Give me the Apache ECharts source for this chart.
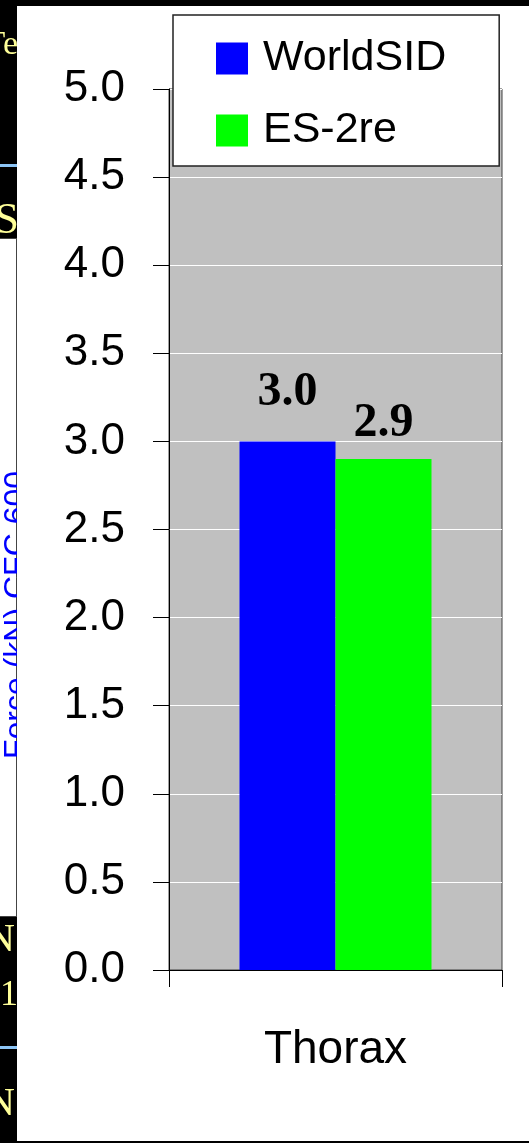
<!DOCTYPE html>
<html>
<head>
<meta charset="utf-8">
<script src="https://cdn.jsdelivr.net/npm/echarts@6/dist/echarts.min.js"></script>
<style>
	html, body { margin: 0; padding: 0; background: #000; }
	#strip { position: absolute; left: 0; top: 0; width: 17px; height: 1143px; }
	#main { position: absolute; left: 17px; top: 6px; width: 512px; height: 1135px; background: #fff; }
</style>
</head>
<body>
<div id="strip"></div>
<div id="main"></div>
<script>
/**
 * Thorax force, WorldSID vs ES-2re
 */
var categories = ['Thorax'];
var worldSid = [3.0];
var es2re = [2.9];
var yMin = 0;
var yMax = 5;
var yStep = 0.5;

// slide fragments showing at the left edge
var stripTexts = ['Te', 'S', 'N', '31', 'N'];
var axisTitle = 'Force (kN) CFC 600';

function leftStrip(id) {
	var myChart = echarts.init(document.getElementById(id));
	function yellow(t, x, y, size) {
		return { type: 'text', x: x, y: y, style: { text: t, align: 'right', verticalAlign: 'middle',
			fill: '#FFFF99', fontFamily: 'Liberation Serif', fontSize: size } };
	}
	myChart.setOption({
		backgroundColor: '#000',
		graphic: [
			yellow(stripTexts[0], 18, 45, 34),
			{ type: 'rect', shape: { x: 0, y: 164, width: 17, height: 3 }, style: { fill: '#8CC4F5' } },
			yellow(stripTexts[1], 19, 221, 44),
			{ type: 'rect', shape: { x: -2, y: 238.5, width: 18.5, height: 678 }, style: { fill: '#fff', stroke: '#444', lineWidth: 1 } },
			{ type: 'text', x: 1, y: 615, rotation: Math.PI / 2,
				style: { text: axisTitle, align: 'center', verticalAlign: 'top', fill: '#0000FF', fontFamily: 'Liberation Sans', fontSize: 32 } },
			yellow(stripTexts[2], 15, 940, 40),
			yellow(stripTexts[3], 18, 996, 36),
			{ type: 'rect', shape: { x: 0, y: 1046, width: 17, height: 3 }, style: { fill: '#8CC4F5' } },
			yellow(stripTexts[4], 15, 1104, 40)
		]
	});
}

function thoraxBars(id) {
	var myChart = echarts.init(document.getElementById(id));
	var labelFont = {
		show: true,
		position: 'top',
		color: '#000',
		fontFamily: 'Liberation Serif',
		fontWeight: 'bold',
		fontSize: 48,
		formatter: function (p) { return p.value.toFixed(1); }
	};
	var option = {
		animation: false,
		backgroundColor: '#fff',
		textStyle: { fontFamily: 'Liberation Sans' },
		grid: {
			left: 152,
			right: 27,
			top: 83,
			bottom: 171,
			show: true,
			backgroundColor: '#C0C0C0',
			borderColor: '#404040',
			borderWidth: 1
		},
		legend: {
			orient: 'vertical',
			left: 156,
			top: 9,
			data: ['WorldSID', 'ES-2re'],
			icon: 'rect',
			itemWidth: 32,
			itemHeight: 32,
			itemGap: 29,
			padding: [22, 53, 14, 43],
			backgroundColor: '#fff',
			borderColor: '#222',
			borderWidth: 1.5,
			textStyle: {
				color: '#000',
				fontSize: 43,
				fontFamily: 'Liberation Sans',
				padding: [0, 0, 0, 10]
			}
		},
		xAxis: {
			type: 'category',
			data: categories,
			boundaryGap: true,
			axisLine: { lineStyle: { color: '#000', width: 1 } },
			axisTick: { show: true, length: 17, lineStyle: { color: '#000' } },
			axisLabel: { color: '#000', fontSize: 46, margin: 57, fontFamily: 'Liberation Sans' },
			splitLine: { show: false }
		},
		yAxis: {
			type: 'value',
			min: yMin,
			max: yMax,
			interval: yStep,
			axisLine: { show: true, lineStyle: { color: '#000', width: 1 } },
			axisTick: { show: true, length: 16, lineStyle: { color: '#000' } },
			axisLabel: {
				color: '#000',
				fontSize: 44,
				margin: 44,
				padding: [9, 0, 0, 0],
				fontFamily: 'Liberation Sans',
				formatter: function (v) { return v.toFixed(1); }
			},
			splitLine: { show: true, lineStyle: { color: '#fff', width: 1.2 } }
		},
		series: [{
			name: 'WorldSID',
			type: 'bar',
			barWidth: 96,
			barGap: 0,
			itemStyle: { color: '#0000FF' },
			label: Object.assign({ distance: 25 }, labelFont),
			data: worldSid
		}, {
			name: 'ES-2re',
			type: 'bar',
			barWidth: 96,
			itemStyle: { color: '#00FF00' },
			label: Object.assign({ distance: 11 }, labelFont),
			data: es2re
		}]
	};
	myChart.setOption(option);
}

leftStrip('strip');
thoraxBars('main');
</script>
</body>
</html>
